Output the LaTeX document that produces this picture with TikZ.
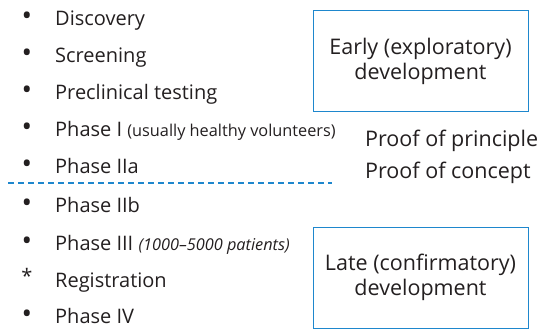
\documentclass[tikz,border=0pt]{standalone}
\usepackage{fontspec}
\setmainfont{Open Sans}
\definecolor{txt}{RGB}{35,31,32}
\definecolor{blu}{RGB}{30,135,205}
\begin{document}
\begin{tikzpicture}[x=1pt,y=-1pt,
  item/.style={anchor=base west,inner sep=0pt,font=\fontsize{20}{24}\selectfont,text=txt},
  rtext/.style={anchor=base west,inner sep=0pt,font=\fontsize{21.5}{25}\selectfont,text=txt},
  mark0/.style={anchor=base,inner sep=0pt,font=\fontsize{20}{24}\selectfont,text=txt},
  boxnode/.style={draw=blu,line width=1pt,text=txt,align=center,font=\fontsize{21.5}{25}\selectfont,inner sep=0pt}]
\useasboundingbox (0,0) rectangle (540,329);
\foreach \t/\y [count=\i] in {Discovery/26,Screening/62.5,Preclinical testing/99,{Phase I {\fontsize{16.3}{18}\selectfont(usually healthy volunteers)}}/136,Phase IIa/173,Phase IIb/212,{Phase III {\fontsize{16.3}{18}\selectfont\itshape(1000--5000 patients)}}/250,Registration/287,Phase IV/323}{
  \node[item] (it\i) at (55,\y) {\t};
}
\foreach \y [count=\i] in {26,62.5,99,136,173,212,250}{\node[mark0] (b\i) at (27,\y) {\scalebox{1.4}{\textbullet}};}
\node[mark0] (ast) at (27,283) {*};
\node[mark0] (b9) at (27,323) {\scalebox{1.4}{\textbullet}};
\coordinate (dl) at (8,183.3);
\coordinate (dr) at (332,183.3);
\draw[draw=blu,line width=1.8pt,dash pattern=on 6pt off 4pt] (dl) -- (dr);
\node[boxnode,minimum width=215pt,minimum height=101pt] (early) at (420.5,61) {Early (exploratory)\\development};
\node[boxnode,minimum width=215pt,minimum height=101pt] (late) at (420.5,277.5) {Late (confirmatory)\\development};
\node[rtext] (pp) at (365,146) {Proof of principle};
\node[rtext] (pc) at (365,178) {Proof of concept};
\end{tikzpicture}
\end{document}
